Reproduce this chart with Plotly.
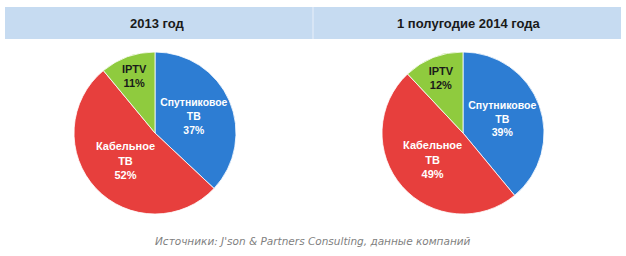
import plotly.graph_objects as go

titles = ["2013 год", "1 полугодие 2014 года"]
labels = ["Спутниковое<br>ТВ", "Кабельное<br>ТВ", "IPTV"]
values_2013 = [37, 52, 11]
values_2014 = [39, 49, 12]
colors = ["#2d7dd3", "#e73f3d", "#8fcb3e"]
text_colors = ["#ffffff", "#ffffff", "#1a1a1a"]
source = "Источники: J'son & Partners Consulting, данные компаний"

W, H = 626, 256
fig = go.Figure()

domains = [[74 / W, 236 / W], [382 / W, 544 / W]]
for vals, dom in zip([values_2013, values_2014], domains):
    fig.add_trace(go.Pie(
        labels=labels, values=vals, sort=False, direction="clockwise", rotation=0,
        marker=dict(colors=colors, line=dict(color="#ffffff", width=0.8)),
        texttemplate="<b>%{label}<br>%{value}%</b>", textposition="inside",
        insidetextorientation="horizontal",
        insidetextfont=dict(family="Liberation Sans", size=11, color=text_colors),
        domain=dict(x=dom, y=[42 / H, 204 / H]),
        hoverinfo="label+value", showlegend=False,
    ))

# header band
fig.add_shape(type="rect", xref="paper", yref="paper",
              x0=5 / W, x1=621 / W, y0=(H - 39) / H, y1=(H - 7) / H,
              fillcolor="#c6dbf1", line=dict(width=0), layer="below")
fig.add_shape(type="line", xref="paper", yref="paper",
              x0=313 / W, x1=313 / W, y0=(H - 39) / H, y1=(H - 7) / H,
              line=dict(color="#dce8f6", width=1.5))

for t, cx in zip(titles, [157, 469]):
    fig.add_annotation(text="<b>" + t + "</b>", x=cx / W, y=(H - 23) / H,
                       xref="paper", yref="paper", showarrow=False,
                       font=dict(family="Liberation Sans", size=13, color="#1a1a1a"),
                       xanchor="center", yanchor="middle")

fig.add_annotation(text="<i>" + source + "</i>", x=313 / W, y=(H - 241) / H,
                   xref="paper", yref="paper", showarrow=False,
                   font=dict(family="DejaVu Sans", size=10.5, color="#7f7f7f"),
                   xanchor="center", yanchor="middle")

fig.update_layout(width=W, height=H, margin=dict(l=0, r=0, t=0, b=0),
                  paper_bgcolor="#ffffff", plot_bgcolor="#ffffff")
fig.write_html("out.html")
